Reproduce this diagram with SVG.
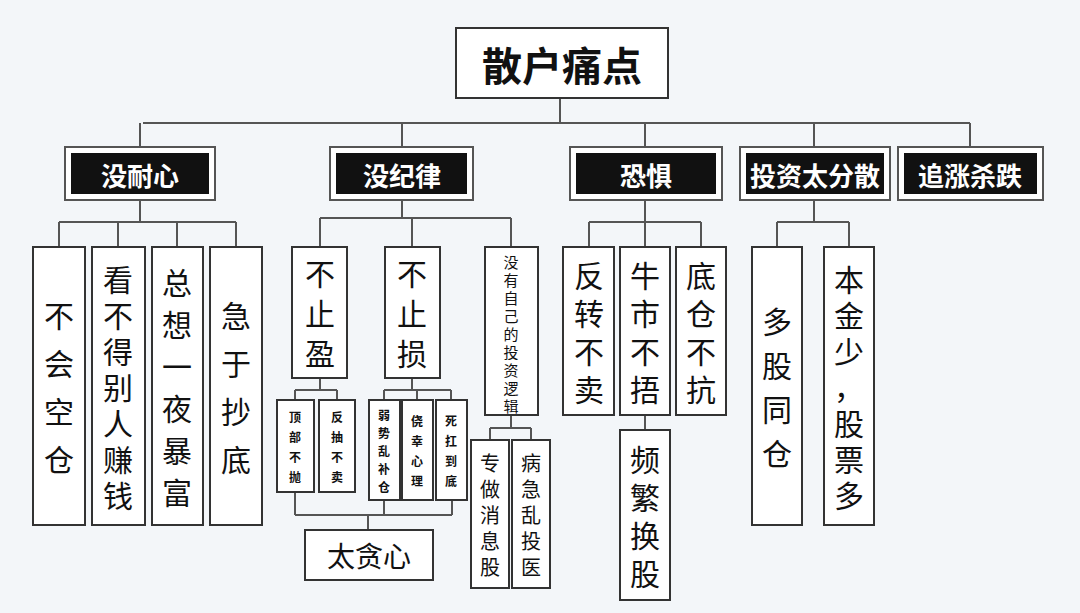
<svg xmlns="http://www.w3.org/2000/svg" width="1080" height="613" viewBox="0 0 1080 613">
<style>
.bg{fill:#f3f6f9}
.box{fill:#fff;stroke:#333;stroke-width:2}
.hout{fill:#fff;stroke:#555;stroke-width:2}
.hin{fill:#111}
.ln{fill:none;stroke:#555;stroke-width:2}
text{font-family:"Noto Sans CJK SC","Noto Sans",sans-serif;text-anchor:middle;dominant-baseline:central;fill:#111}
.h{fill:#fff;font-weight:bold;font-size:26px}
.v{font-size:30px}
.s{font-size:12px;font-weight:bold}
</style>
<rect class="bg" width="1080" height="613"/>
<g id="connectors">
<path class="ln" d="M560 98V123M143 123H970M140 123V147M402 123V147M645 123V147M814 123V147M970 123V147"/>
<path class="ln" d="M140 200V222M59 222H236M59 222V247M118 222V247M177 222V247M236 222V247"/>
<path class="ln" d="M402 200V218M320 218H511M320 218V247M412 218V247M511 218V247"/>
<path class="ln" d="M320 378V390M295 390H337M295 390V400M337 390V400"/>
<path class="ln" d="M412 378V390M384 390H451M384 390V400M417 390V400M451 390V400"/>
<path class="ln" d="M295 492V515M384 500V515M295 515H452M452 500V515M368 515V530"/>
<path class="ln" d="M511 415V428M490 428H531M490 428V440M531 428V440"/>
<path class="ln" d="M645 200V222M589 222H701M589 222V247M645 222V247M701 222V247M645 415V430"/>
<path class="ln" d="M814 200V222M777 222H849M777 222V247M849 222V247"/>
</g>
<g id="root"><rect class="box" x="456" y="28" width="212" height="70"/><text x="562" y="64" font-size="40" font-weight="bold">散户痛点</text></g>
<g id="h1"><rect class="hout" x="65" y="147" width="150" height="53"/><rect class="hin" x="71" y="153" width="138" height="41"/><text class="h" x="140" y="174">没耐心</text></g>
<g id="h2"><rect class="hout" x="330" y="147" width="143" height="53"/><rect class="hin" x="336" y="153" width="131" height="41"/><text class="h" x="402" y="174">没纪律</text></g>
<g id="h3"><rect class="hout" x="570" y="147" width="152" height="53"/><rect class="hin" x="576" y="153" width="140" height="41"/><text class="h" x="646" y="174">恐惧</text></g>
<g id="h4"><rect class="hout" x="740" y="147" width="150" height="53"/><rect class="hin" x="746" y="153" width="138" height="41"/><text class="h" x="815" y="174" font-size="22">投资太分散</text></g>
<g id="h5"><rect class="hout" x="898" y="147" width="145" height="53"/><rect class="hin" x="904" y="153" width="133" height="41"/><text class="h" x="970" y="174" font-size="24">追涨杀跌</text></g>

<g id="n1"><rect class="box" x="33" y="247" width="52" height="278"/><text class="v"><tspan x="59" y="314">不</tspan><tspan x="59" y="362">会</tspan><tspan x="59" y="410">空</tspan><tspan x="59" y="458">仓</tspan></text></g>
<g id="n2"><rect class="box" x="92" y="247" width="53" height="278"/><text class="v"><tspan x="118" y="278">看</tspan><tspan x="118" y="314">不</tspan><tspan x="118" y="350">得</tspan><tspan x="118" y="386">别</tspan><tspan x="118" y="422">人</tspan><tspan x="118" y="458">赚</tspan><tspan x="118" y="494">钱</tspan></text></g>
<g id="n3"><rect class="box" x="152" y="247" width="51" height="278"/><text class="v"><tspan x="177" y="281">总</tspan><tspan x="177" y="323">想</tspan><tspan x="177" y="365">一</tspan><tspan x="177" y="407">夜</tspan><tspan x="177" y="449">暴</tspan><tspan x="177" y="491">富</tspan></text></g>
<g id="n4"><rect class="box" x="210" y="247" width="52" height="278"/><text class="v"><tspan x="236" y="314">急</tspan><tspan x="236" y="362">于</tspan><tspan x="236" y="410">抄</tspan><tspan x="236" y="458">底</tspan></text></g>

<g id="n5"><rect class="box" x="292" y="247" width="55" height="131"/><text class="v"><tspan x="320" y="272">不</tspan><tspan x="320" y="312">止</tspan><tspan x="320" y="352">盈</tspan></text></g>
<g id="n6"><rect class="box" x="385" y="247" width="55" height="131"/><text class="v"><tspan x="412" y="272">不</tspan><tspan x="412" y="312">止</tspan><tspan x="412" y="352">损</tspan></text></g>
<g id="n7"><rect class="box" x="485" y="247" width="53" height="168"/><text font-size="15"><tspan x="511" y="261">没</tspan><tspan x="511" y="279">有</tspan><tspan x="511" y="297">自</tspan><tspan x="511" y="315">己</tspan><tspan x="511" y="333">的</tspan><tspan x="511" y="351">投</tspan><tspan x="511" y="369">资</tspan><tspan x="511" y="387">逻</tspan><tspan x="511" y="405">辑</tspan></text></g>

<g id="s1"><rect class="box" x="277" y="400" width="37" height="92"/><text class="s"><tspan x="295" y="416">顶</tspan><tspan x="295" y="436">部</tspan><tspan x="295" y="456">不</tspan><tspan x="295" y="476">抛</tspan></text></g>
<g id="s2"><rect class="box" x="319" y="400" width="36" height="92"/><text class="s"><tspan x="337" y="416">反</tspan><tspan x="337" y="436">抽</tspan><tspan x="337" y="456">不</tspan><tspan x="337" y="476">卖</tspan></text></g>
<g id="s3"><rect class="box" x="369" y="400" width="31" height="100"/><text class="s"><tspan x="384" y="414">弱</tspan><tspan x="384" y="432">势</tspan><tspan x="384" y="450">乱</tspan><tspan x="384" y="468">补</tspan><tspan x="384" y="486">仓</tspan></text></g>
<g id="s4"><rect class="box" x="402" y="400" width="31" height="100"/><text class="s"><tspan x="417" y="420">侥</tspan><tspan x="417" y="440">幸</tspan><tspan x="417" y="460">心</tspan><tspan x="417" y="480">理</tspan></text></g>
<g id="s5"><rect class="box" x="436" y="400" width="31" height="100"/><text class="s"><tspan x="451" y="420">死</tspan><tspan x="451" y="440">扛</tspan><tspan x="451" y="460">到</tspan><tspan x="451" y="480">底</tspan></text></g>
<g id="n8"><rect class="box" x="305" y="530" width="128" height="50"/><text x="369" y="555" font-size="28">太贪心</text></g>

<g id="n9"><rect class="box" x="471" y="440" width="38" height="148"/><text font-size="20"><tspan x="490" y="462">专</tspan><tspan x="490" y="488">做</tspan><tspan x="490" y="514">消</tspan><tspan x="490" y="540">息</tspan><tspan x="490" y="566">股</tspan></text></g>
<g id="n10"><rect class="box" x="512" y="440" width="38" height="148"/><text font-size="20"><tspan x="531" y="462">病</tspan><tspan x="531" y="488">急</tspan><tspan x="531" y="514">乱</tspan><tspan x="531" y="540">投</tspan><tspan x="531" y="566">医</tspan></text></g>

<g id="n11"><rect class="box" x="563" y="247" width="51" height="168"/><text class="v"><tspan x="589" y="274">反</tspan><tspan x="589" y="312">转</tspan><tspan x="589" y="350">不</tspan><tspan x="589" y="388">卖</tspan></text></g>
<g id="n12"><rect class="box" x="620" y="247" width="50" height="168"/><text class="v"><tspan x="645" y="274">牛</tspan><tspan x="645" y="312">市</tspan><tspan x="645" y="350">不</tspan><tspan x="645" y="388">捂</tspan></text></g>
<g id="n13"><rect class="box" x="676" y="247" width="50" height="168"/><text class="v"><tspan x="701" y="274">底</tspan><tspan x="701" y="312">仓</tspan><tspan x="701" y="350">不</tspan><tspan x="701" y="388">抗</tspan></text></g>
<g id="n14"><rect class="box" x="620" y="430" width="50" height="170"/><text class="v"><tspan x="645" y="458">频</tspan><tspan x="645" y="496">繁</tspan><tspan x="645" y="534">换</tspan><tspan x="645" y="572">股</tspan></text></g>

<g id="n15"><rect class="box" x="752" y="247" width="50" height="278"/><text class="v"><tspan x="777" y="320">多</tspan><tspan x="777" y="364">股</tspan><tspan x="777" y="408">同</tspan><tspan x="777" y="452">仓</tspan></text></g>
<g id="n16"><rect class="box" x="824" y="247" width="50" height="278"/><text class="v"><tspan x="849" y="278">本</tspan><tspan x="849" y="314">金</tspan><tspan x="849" y="350">少</tspan><tspan x="849" y="386">，</tspan><tspan x="849" y="422">股</tspan><tspan x="849" y="458">票</tspan><tspan x="849" y="494">多</tspan></text></g>
</svg>
